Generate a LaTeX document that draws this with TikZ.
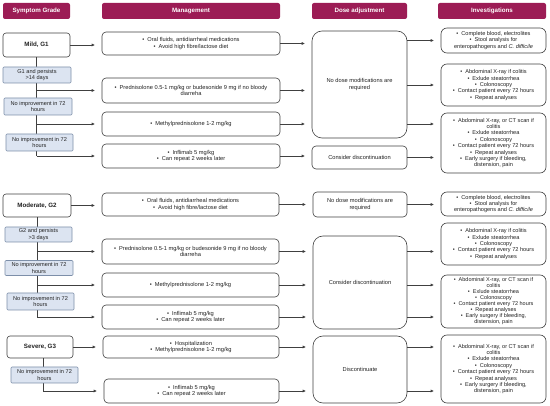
\documentclass[tikz,border=0pt]{standalone}
\usepackage{fontspec}
\setmainfont{Liberation Sans}
\usetikzlibrary{arrows.meta,calc}
\definecolor{maroon}{HTML}{9C1C55}
\definecolor{lblue}{HTML}{DCE4F1}
\definecolor{bblue}{HTML}{7D8FA9}
\definecolor{ln}{HTML}{404040}
\definecolor{txt}{HTML}{222222}
\newcommand{\bu}{\textbullet\hspace{3pt}}
\begin{document}
\begin{tikzpicture}[x=1pt,y=-1pt,
  hdr/.style={fill=maroon, rounded corners=2pt, text=white, font=\fontsize{6.2}{7}\selectfont\bfseries, inner sep=0pt},
  grade/.style={draw=ln, fill=white, rounded corners=3pt, line width=0.6pt, text=txt, font=\fontsize{6.2}{7}\selectfont\bfseries, inner sep=0pt},
  cond/.style={draw=bblue, fill=lblue, rounded corners=1pt, line width=0.6pt, text=txt, font=\fontsize{5.6}{6.3}\selectfont, align=center, inner sep=0pt},
  mbox/.style={draw=ln, fill=white, rounded corners=4pt, line width=0.6pt, text=txt, font=\fontsize{5.7}{6.6}\selectfont, align=center, inner sep=0pt},
  dbox/.style={mbox, rounded corners=10pt},
  ibox/.style={mbox, rounded corners=6pt, font=\fontsize{5.6}{6.4}\selectfont},
  lin/.style={draw=ln, line width=0.6pt},
  arr/.style={lin, -{Triangle[length=3pt,width=2.6pt]}, shorten >=7pt}
]
\useasboundingbox (0,0) rectangle (550,406);
% headers
\node[hdr, minimum width=67pt, minimum height=16pt] (hSG) at (36.5,11) {Symptom Grade};
\node[hdr, minimum width=178pt, minimum height=16pt] (hM) at (191,11) {Management};
\node[hdr, minimum width=95pt, minimum height=16pt] (hD) at (359.5,11) {Dose adjustment};
\node[hdr, minimum width=108pt, minimum height=16pt] (hI) at (492,11) {Investigations};
% grades
\node[grade, minimum width=67pt, minimum height=24pt] (mild) at (36.5,45) {Mild, G1};
\node[grade, minimum width=68pt, minimum height=23pt] (mod) at (37,205.5) {Moderate, G2};
\node[grade, minimum width=66pt, minimum height=22pt] (sev) at (40,347) {Severe, G3};
% management
\node[mbox, minimum width=178pt, minimum height=23pt] (m1) at (191,43.5) {\bu Oral fluids, antidiarrheal medications\\\bu Avoid high fibre/lactose diet};
\node[mbox, minimum width=178pt, minimum height=25pt] (m2) at (191,90.5) {\bu Prednisolone 0.5-1 mg/kg or budesonide 9 mg if no bloody\\diarreha};
\node[mbox, minimum width=178pt, minimum height=24pt] (m3) at (191,124) {\bu Methylprednisolone 1-2 mg/kg};
\node[mbox, minimum width=178pt, minimum height=24pt] (m4) at (191,156) {\bu Inflimab 5 mg/kg\\\bu Can repeat 2 weeks later};
\node[mbox, minimum width=177pt, minimum height=23pt] (m5) at (190.5,204.5) {\bu Oral fluids, antidiarrheal medications\\\bu Avoid high fibre/lactose diet};
\node[mbox, minimum width=177pt, minimum height=25pt] (m6) at (190.5,251.5) {\bu Prednisolone 0.5-1 mg/kg or budesonide 9 mg if no bloody\\diarreha};
\node[mbox, minimum width=177pt, minimum height=24pt] (m7) at (190.5,285) {\bu Methylprednisolone 1-2 mg/kg};
\node[mbox, minimum width=177pt, minimum height=24pt] (m8) at (190.5,317) {\bu Inflimab 5 mg/kg\\\bu Can repeat 2 weeks later};
\node[mbox, minimum width=176pt, minimum height=22pt] (m9) at (191,347) {\bu Hospitalization\\\bu Methylprednisolone 1-2 mg/kg};
\node[mbox, minimum width=175pt, minimum height=24pt] (m10) at (191.5,391) {\bu Inflimab 5 mg/kg\\\bu Can repeat 2 weeks later};
% dose
\node[dbox, minimum width=95pt, minimum height=107pt] (d1) at (359.5,84.5) {No dose modifications are\\required};
\node[mbox, minimum width=95pt, minimum height=23pt] (d2) at (359.5,157.5) {Consider discontinuation};
\node[mbox, minimum width=94pt, minimum height=25pt] (d3) at (360,204.5) {No dose modifications are\\required};
\node[dbox, minimum width=94pt, minimum height=93pt] (d4) at (360,282.5) {Consider discontinuation};
\node[dbox, minimum width=94pt, minimum height=67pt] (d5) at (360,369.5) {Discontinuate};
% investigations
\node[ibox, minimum width=105pt, minimum height=25pt] (i1) at (493.5,40.5) {\bu Complete blood, electrolites\\\bu Stool analysis for\\enteropathogens and \textit{C. difficile}};
\node[ibox, minimum width=105pt, minimum height=42pt] (i2) at (493.5,85) {\bu Abdominal X-ray if colitis\\\bu Exlude steatorrhea\\\bu Colonoscopy\\\bu Contact patient every 72 hours\\\bu Repeat analyses};
\node[ibox, minimum width=105pt, minimum height=60pt] (i3) at (493.5,143) {\bu Abdominal X-ray, or CT scan if\\colitis\\\bu Exlude steatorrhea\\\bu Colonoscopy\\\bu Contact patient every 72 hours\\\bu Repeat analyses\\\bu Early surgery if bleeding,\\distension, pain};
\node[ibox, minimum width=105pt, minimum height=24pt] (i4) at (493.5,204) {\bu Complete blood, electrolites\\\bu Stool analysis for\\enteropathogens and \textit{C. difficile}};
\node[ibox, minimum width=105pt, minimum height=42pt] (i5) at (493.5,244) {\bu Abdominal X-ray if colitis\\\bu Exlude steatorrhea\\\bu Colonoscopy\\\bu Contact patient every 72 hours\\\bu Repeat analyses};
\node[ibox, minimum width=105pt, minimum height=53pt, font=\fontsize{5.5}{6.0}\selectfont] (i6) at (493.5,301.5) {\bu Abdominal X-ray, or CT scan if\\colitis\\\bu Exlude steatorrhea\\\bu Colonoscopy\\\bu Contact patient every 72 hours\\\bu Repeat analyses\\\bu Early surgery if bleeding,\\distension, pain};
\node[ibox, minimum width=105pt, minimum height=68pt] (i7) at (493.5,369) {\bu Abdominal X-ray, or CT scan if\\colitis\\\bu Exlude steatorrhea\\\bu Colonoscopy\\\bu Contact patient every 72 hours\\\bu Repeat analyses\\\bu Early surgery if bleeding,\\distension, pain};
% trunks and connectors, section 1
\draw[lin] (mild.south) -- (mild.south |- m4.west);
\draw[arr] (mild.east) -- (mild.east -| m1.west);
\draw[arr] (mild.south |- m2.west) -- (m2.west);
\draw[arr] (mild.south |- m3.west) -- (m3.west);
\draw[arr] (mild.south |- m4.west) -- (m4.west);
% section 2
\draw[lin] (mod.south) -- (mod.south |- m8.west);
\draw[arr] (mod.east) -- (mod.east -| m5.west);
\draw[arr] (mod.south |- m6.west) -- (m6.west);
\draw[arr] (mod.south |- m7.west) -- (m7.west);
\draw[arr] (mod.south |- m8.west) -- (m8.west);
% section 3
\draw[lin] ([xshift=3pt]sev.south) -- ([xshift=3pt]sev.south |- m10.west);
\draw[arr] (sev.east) -- (sev.east -| m9.west);
\draw[arr] ([xshift=3pt]sev.south |- m10.west) -- (m10.west);
% management -> dose
\draw[arr] (m1.east) -- (m1.east -| d1.west);
\draw[arr] (m2.east) -- (m2.east -| d1.west);
\draw[arr] (m3.east) -- (m3.east -| d1.west);
\draw[arr] (m4.east) -- (m4.east -| d2.west);
\draw[arr] (m5.east) -- (m5.east -| d3.west);
\draw[arr] (m6.east) -- (m6.east -| d4.west);
\draw[arr] (m7.east) -- (m7.east -| d4.west);
\draw[arr] (m8.east) -- (m8.east -| d4.west);
\draw[arr] (m9.east) -- (m9.east -| d5.west);
\draw[arr] (m10.east) -- (m10.east -| d5.west);
% dose -> investigations
\draw[arr] (d1.east |- i1.west) -- (i1.west);
\draw[arr] (d1.east |- i2.west) -- (i2.west);
\draw[arr] (d1.east |- m3.east) -- (i3.west |- m3.east);
\draw[arr] (d2.east) -- (d2.east -| i3.west);
\draw[arr] (d3.east) -- (d3.east -| i4.west);
\draw[arr] (d4.east |- m6.east) -- (i5.west |- m6.east);
\draw[arr] (d4.east |- m7.east) -- (i6.west |- m7.east);
\draw[arr] (d4.east |- m8.east) -- (i6.west |- m8.east);
\draw[arr] (d5.east |- m9.east) -- (i7.west |- m9.east);
\draw[arr] (d5.east |- m10.east) -- (i7.west |- m10.east);
% condition boxes (drawn over the trunks)
\node[cond, minimum width=68pt, minimum height=16pt] (g1p) at (37,75) {G1 and persists\\>14 days};
\node[cond, minimum width=68pt, minimum height=17pt] (ni1) at (38,106.5) {No improvement in 72\\hours};
\node[cond, minimum width=67pt, minimum height=17pt] (ni2) at (39.5,142.5) {No improvement in 72\\hours};
\node[cond, minimum width=67pt, minimum height=15pt] (g2p) at (38.5,234.5) {G2 and persists\\>3 days};
\node[cond, minimum width=68pt, minimum height=15pt] (ni3) at (39,268) {No improvement in 72\\hours};
\node[cond, minimum width=67pt, minimum height=17pt] (ni4) at (40.5,301.5) {No improvement in 72\\hours};
\node[cond, minimum width=67pt, minimum height=16pt] (ni5) at (44.5,375) {No improvement in 72\\hours};
\end{tikzpicture}
\end{document}
